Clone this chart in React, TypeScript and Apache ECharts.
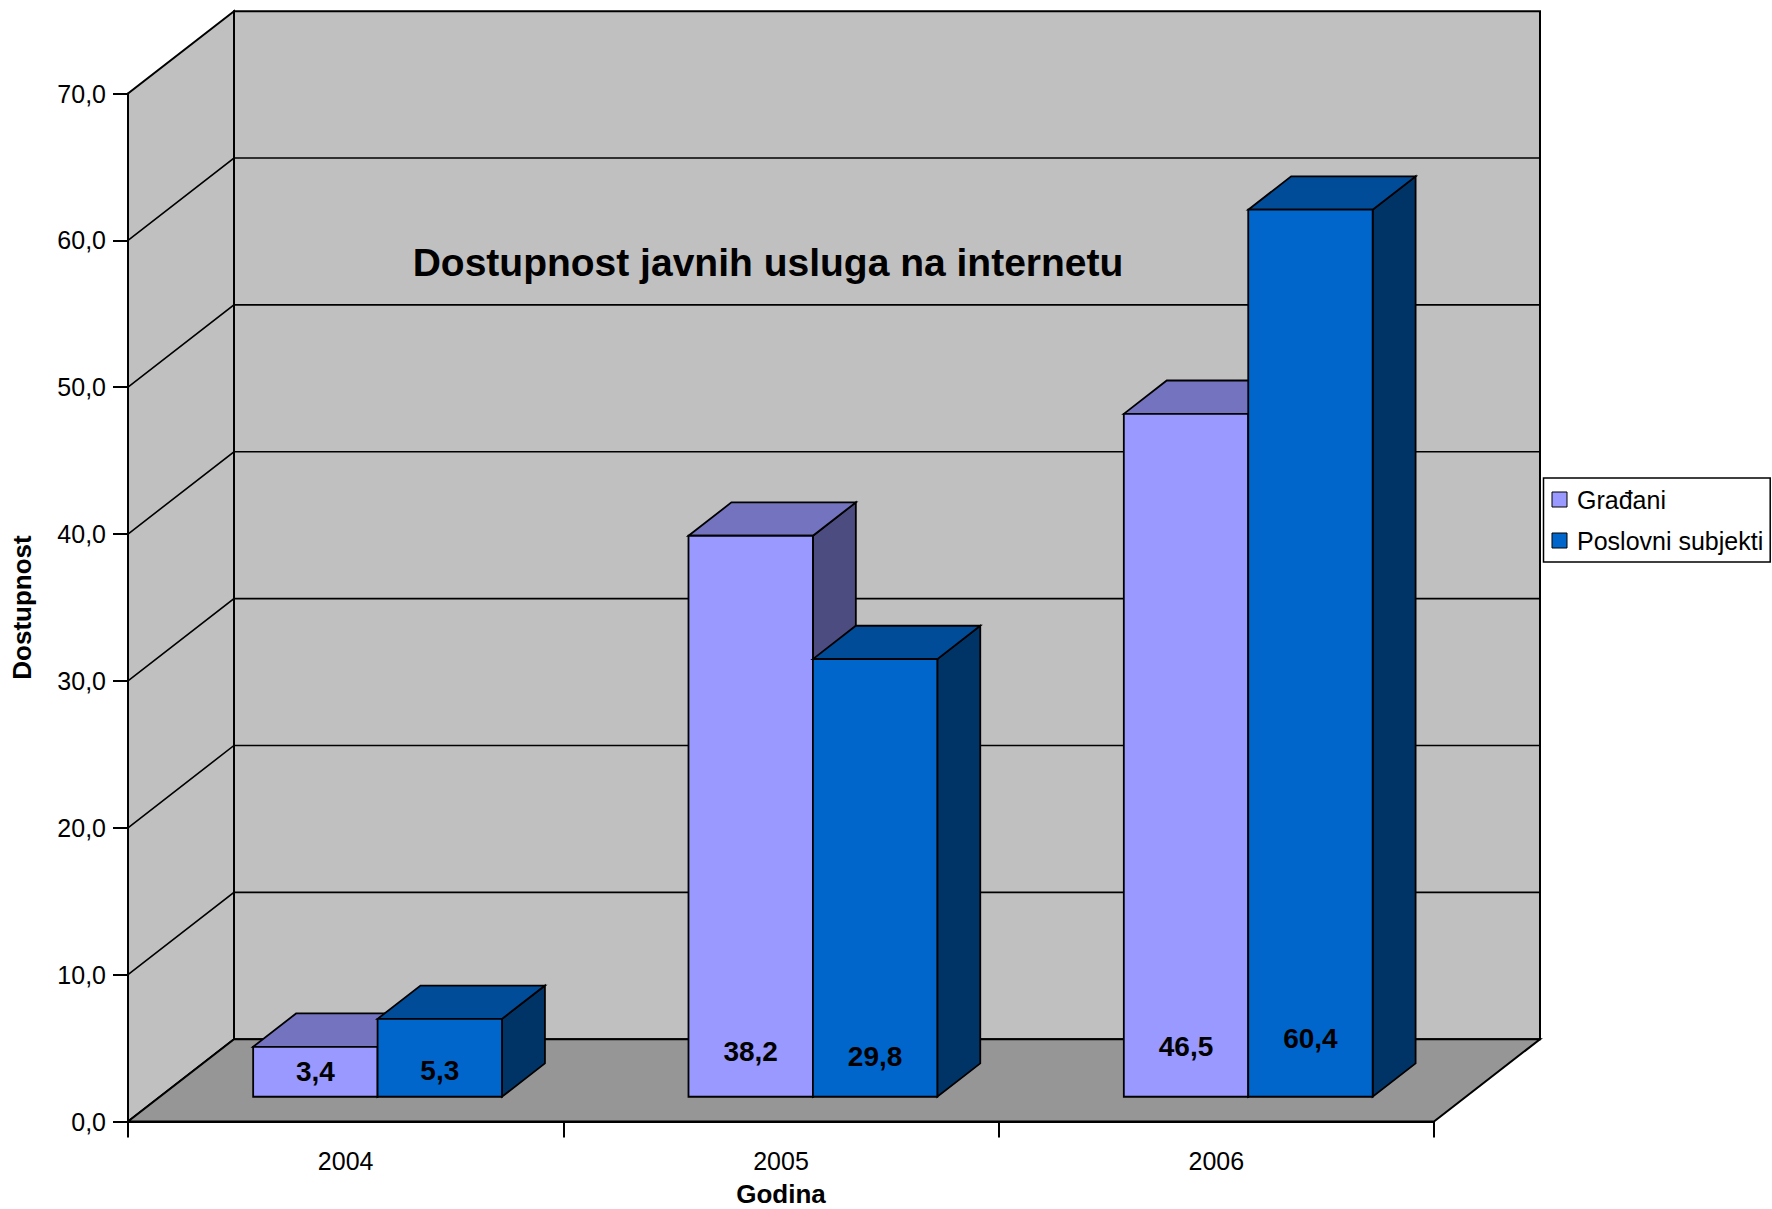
import React, { useEffect, useRef } from 'react';
import * as echarts from 'echarts';

const categories = ['2004', '2005', '2006'];
const gradjani = [3.4, 38.2, 46.5];
const poslovni = [5.3, 29.8, 60.4];
const seriesNames = ['Građani', 'Poslovni subjekti'];
const yMin = 0;
const yMax = 70;
const yStep = 10;
const titleText = 'Dostupnost javnih usluga na internetu';
const xName = 'Godina';
const yName = 'Dostupnost';

const FONT = '"Liberation Sans", Arial, Helvetica, sans-serif';
const DEPTH = [106, -82.3];
const BAR_OFFSET = 0.301;
const BAR_DEPTH = 0.405;
const BAR_WIDTH = 0.2858;
const WALL = '#C0C0C0';
const FLOOR = '#969696';
const PALETTE = [
  { front: '#9999FF', top: '#7373BF', side: '#4C4C80' },
  { front: '#0066CC', top: '#004C99', side: '#003366' },
];

const fmt = (v: number) => v.toFixed(1).replace('.', ',');

const renderWalls = (params: any, api: any) => {
  const cs = params.coordSys;
  const x0 = cs.x;
  const x1 = cs.x + cs.width;
  const yt = cs.y;
  const yb = cs.y + cs.height;
  const [dx, dy] = DEPTH;
  const edge = { stroke: '#000', lineWidth: 2 };
  const children: any[] = [
    {
      type: 'polygon',
      shape: { points: [[x0, yb], [x0, yt], [x0 + dx, yt + dy], [x0 + dx, yb + dy]] },
      style: { fill: WALL, ...edge },
    },
    {
      type: 'rect',
      shape: { x: x0 + dx, y: yt + dy, width: x1 - x0, height: yb - yt },
      style: { fill: WALL, ...edge },
    },
  ];
  for (let v = yMin + yStep; v < yMax; v += yStep) {
    const y = api.coord([0, v])[1];
    children.push({
      type: 'polyline',
      shape: { points: [[x0, y], [x0 + dx, y + dy], [x1 + dx, y + dy]] },
      style: { fill: 'none', stroke: '#000', lineWidth: 1.6 },
    });
  }
  children.push({
    type: 'polygon',
    shape: { points: [[x0, yb], [x1, yb], [x1 + dx, yb + dy], [x0 + dx, yb + dy]] },
    style: { fill: FLOOR, ...edge },
  });
  return { type: 'group', children };
};

const makeBarRenderer = (s: number) => (params: any, api: any) => {
  const cat = api.value(0);
  const v = api.value(1);
  const p0 = api.coord([cat, 0]);
  const p1 = api.coord([cat, v]);
  const band = api.size([1, 0])[0];
  const bw = band * BAR_WIDTH;
  const ox = DEPTH[0] * BAR_OFFSET;
  const oy = DEPTH[1] * BAR_OFFSET;
  const dx = DEPTH[0] * BAR_DEPTH;
  const dy = DEPTH[1] * BAR_DEPTH;
  const xl = p0[0] + ox - bw + s * bw;
  const xr = xl + bw;
  const yb = p0[1] + oy;
  const yt = p1[1] + oy;
  const c = PALETTE[s];
  const edge = { stroke: '#000', lineWidth: 1.8, lineJoin: 'miter' };
  return {
    type: 'group',
    children: [
      {
        type: 'polygon',
        shape: { points: [[xr, yt], [xr + dx, yt + dy], [xr + dx, yb + dy], [xr, yb]] },
        style: { fill: c.side, ...edge },
      },
      {
        type: 'polygon',
        shape: { points: [[xl, yt], [xl + dx, yt + dy], [xr + dx, yt + dy], [xr, yt]] },
        style: { fill: c.top, ...edge },
      },
      {
        type: 'rect',
        shape: { x: xl, y: yt, width: bw, height: yb - yt },
        style: { fill: c.front, ...edge },
      },
      {
        type: 'text',
        x: xl + bw / 2,
        y: yb - (23 + 0.58 * v),
        style: {
          text: fmt(v),
          fill: '#000',
          font: `bold 28px ${FONT}`,
          align: 'center',
          verticalAlign: 'middle',
        },
      },
    ],
  };
};

export default function App() {
  const ref = useRef<HTMLDivElement>(null);
  useEffect(() => {
    if (!ref.current) return;
    const chart = echarts.init(ref.current, undefined, { renderer: 'svg' });
    const seriesValues = [gradjani, poslovni];
    chart.setOption({
      animation: false,
      backgroundColor: '#ffffff',
      textStyle: { fontFamily: FONT },
      title: {
        text: titleText,
        left: 768,
        top: 262.5,
        textAlign: 'center',
        textVerticalAlign: 'middle',
        padding: 0,
        textStyle: { fontFamily: FONT, fontSize: 39, fontWeight: 'bold', color: '#000' },
      },
      legend: {
        data: seriesNames,
        orient: 'vertical',
        left: 1543.5,
        top: 478,
        padding: [9, 7, 9, 8],
        itemGap: 16,
        itemWidth: 15,
        itemHeight: 15,
        icon: 'rect',
        backgroundColor: '#ffffff',
        borderColor: '#000',
        borderWidth: 1.5,
        borderRadius: 0,
        itemStyle: { borderColor: '#000', borderWidth: 1 },
        textStyle: { fontFamily: FONT, fontSize: 25, color: '#000', padding: [0, 0, 0, 5] },
        selectedMode: false,
      },
      grid: {
        left: 128,
        right: 338,
        top: 93.5,
        bottom: 87.5,
        outerBoundsMode: 'none',
        containLabel: false,
      },
      xAxis: {
        type: 'category',
        data: categories,
        boundaryGap: true,
        name: xName,
        nameLocation: 'middle',
        nameGap: 59,
        nameTextStyle: { fontFamily: FONT, fontSize: 26, fontWeight: 'bold', color: '#000' },
        axisLine: { show: true, lineStyle: { color: '#000', width: 2 } },
        axisTick: { show: true, interval: 0, length: 16, lineStyle: { color: '#000', width: 2 } },
        axisLabel: { fontFamily: FONT, fontSize: 25, color: '#000', margin: 27, interval: 0 },
        splitLine: { show: false },
        z: 10,
      },
      yAxis: {
        type: 'value',
        min: yMin,
        max: yMax,
        interval: yStep,
        name: yName,
        nameLocation: 'middle',
        nameRotate: 90,
        nameGap: 93,
        nameTextStyle: { fontFamily: FONT, fontSize: 26, fontWeight: 'bold', color: '#000' },
        axisLine: { show: true, lineStyle: { color: '#000', width: 2 } },
        axisTick: { show: true, length: 15, lineStyle: { color: '#000', width: 2 } },
        axisLabel: { fontFamily: FONT, fontSize: 25, color: '#000', margin: 22, formatter: (v: number) => fmt(v) },
        splitLine: { show: false },
        z: 10,
      },
      series: [
        {
          type: 'custom',
          name: 'walls',
          renderItem: renderWalls,
          data: [[0, 0]],
          encode: { x: 0, y: 1 },
          silent: true,
          z: 1,
        },
        ...seriesNames.map((name, s) => ({
          type: 'custom',
          name,
          renderItem: makeBarRenderer(s),
          data: categories.map((_, i) => [i, seriesValues[s][i]]),
          encode: { x: 0, y: 1 },
          itemStyle: { color: PALETTE[s].front },
          z: 2 + s,
        })),
      ],
    });
    return () => chart.dispose();
  }, []);
  return (
    <div
      ref={ref}
      style={{ position: 'absolute', left: 0, top: 0, width: 1772, height: 1209, background: '#fff' }}
    />
  );
}
